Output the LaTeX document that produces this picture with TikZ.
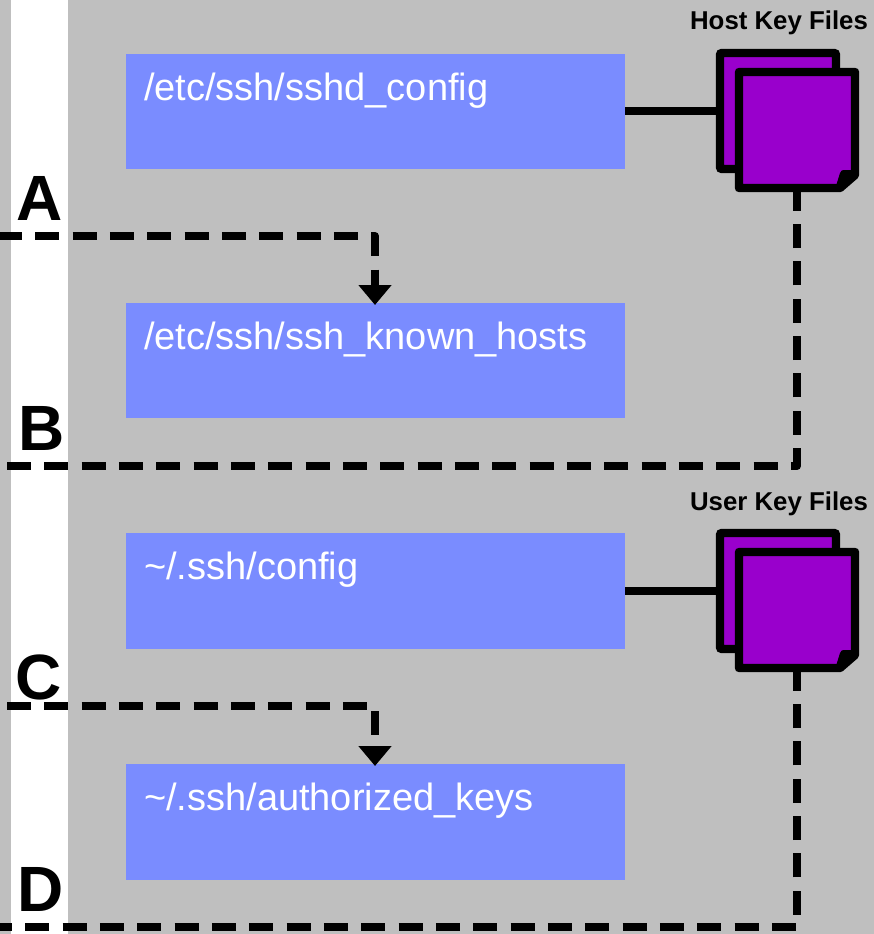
\documentclass[tikz,border=0pt]{standalone}
\usepackage{fontspec}
\setmainfont{Liberation Sans}
\usetikzlibrary{arrows.meta}
\definecolor{bggray}{HTML}{BFBFBF}
\definecolor{boxblue}{HTML}{7A8CFF}
\definecolor{keypurple}{HTML}{9900CC}
\tikzset{
  x=1pt,y=-1pt,
  filebox/.style={fill=boxblue,draw=none,minimum width=499pt,minimum height=115pt,inner sep=0pt,outer sep=0pt,anchor=north west},
  filetext/.style={text=white,font=\fontsize{38}{38}\selectfont,anchor=base west,inner sep=0pt,outer sep=0pt},
  letter/.style={font=\fontsize{64}{64}\selectfont\bfseries,anchor=base west,inner sep=0pt,outer sep=0pt},
  keytitle/.style={font=\fontsize{25.8}{26}\selectfont\bfseries,anchor=base,inner sep=0pt,outer sep=0pt},
  sheet/.style={draw=black,fill=keypurple,line width=8.4pt,rounded corners=2pt,minimum width=116pt,minimum height=116pt,inner sep=0pt,outer sep=0pt,anchor=north west},
  frontanchor/.style={minimum width=124pt,minimum height=124pt,inner sep=0pt,outer sep=0pt,anchor=north west},
  solidlink/.style={draw=black,line width=8pt},
  dashlink/.style={draw=black,line width=8pt,line join=round,dash pattern=on 24pt off 13.33pt},
  tip/.style={-{Triangle[width=32pt,length=20pt]},shorten >=-2pt}
}
% #1 node name, #2 x, #3 y: front sheet with turned corner
\newcommand{\frontsheet}[3]{%
  \node[frontanchor] (#1) at (#2,#3) {};
  \begin{scope}[shift={(#1.north west)}]
    \draw[black,fill=keypurple,line width=8.4pt,line join=round]
      (4,4) -- (120,4) -- (120,107) -- (105,120) -- (4,120) -- cycle;
    \fill[black] (101,118) -- (105,105) .. controls (106,102.5) and (107,102) .. (109,102) -- (118,102) -- (118,110) -- (105,120) -- cycle;
  \end{scope}}
\begin{document}
\begin{tikzpicture}
\useasboundingbox (0,0) rectangle (874,934);
\fill[bggray] (0,0) rectangle (874,934);
\fill[white] (11,0) rectangle (68,934);

\node[filebox] (sshd) at (126,54) {};
\node[filebox] (known) at (126,303) {};
\node[filebox,minimum height=116pt] (cfg) at (126,533) {};
\node[filebox,minimum height=116pt] (auth) at (126,764) {};

\node[filetext] (t1) at (144,100) {/etc/ssh/sshd\_config};
\node[filetext] (t2) at (144,349) {/etc/ssh/ssh\_known\_hosts};
\node[filetext] (t3) at (144,579) {\char`\~/.ssh/config};
\node[filetext] (t4) at (144,810) {\char`\~/.ssh/authorized\_keys};

\node[keytitle] (hk) at (779,30) {Host Key Files};
\node[keytitle] (uk) at (779,510) {User Key Files};

\node[letter] (A) at (16.5,220) {A};
\node[letter] (B) at (18,450) {B};
\node[letter] (C) at (16,699) {C};
\node[letter] (D) at (17,911) {D};

\node[sheet] (hostback) at (720,53) {};
\frontsheet{hostfront}{735}{68}
\node[sheet] (userback) at (720,533) {};
\frontsheet{userfront}{735}{548}

\draw[solidlink] (hostback.west -| sshd.east) -- (hostback.west);
\draw[solidlink] (userback.west -| cfg.east) -- (userback.west);

\coordinate (aStart) at (-2,236);
\coordinate (aBend) at (375,236);
\coordinate (cStart) at (7,706);
\coordinate (cBend) at (375,706);
\coordinate (bStart) at (7,466);
\coordinate (bBend) at (797,466);
\coordinate (dStart) at (-12,927);
\coordinate (dBend) at (797,927);

\draw[dashlink,tip] (aStart) -- (aBend) -- (aBend |- known.north);
\draw[dashlink,tip] (cStart) -- (cBend) -- (cBend |- auth.north);
\draw[dashlink] (bStart) -- (bBend) -- (bBend |- hostfront.south);
\draw[dashlink] (dStart) -- (dBend) -- (dBend |- userfront.south);
\end{tikzpicture}
\end{document}
